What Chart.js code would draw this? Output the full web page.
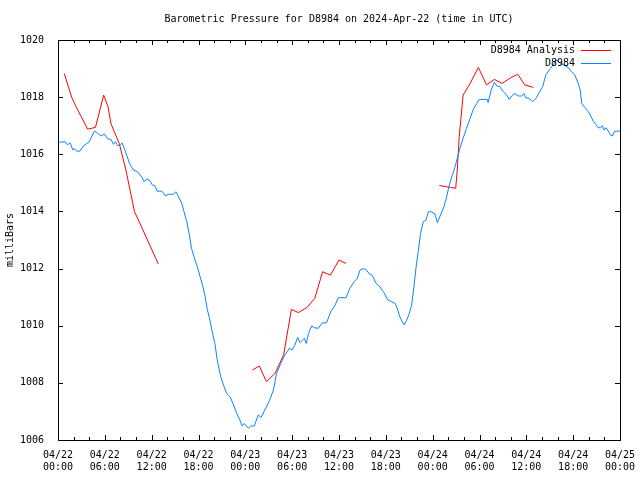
<!DOCTYPE html>
<html>
<head>
<meta charset="utf-8">
<script src="https://cdn.jsdelivr.net/npm/chart.js@4/dist/chart.umd.min.js"></script>
<style>
html,body{margin:0;padding:0;background:#fff;}
#wrap{width:640px;height:480px;}
</style>
</head>
<body>
<div id="wrap"><canvas id="c" width="640" height="480"></canvas></div>
<script>
// ---- data ----
const chartTitle = "Barometric Pressure for D8984 on 2024-Apr-22 (time in UTC)";
const yAxisTitle = "milliBars";
const seriesNames = ["D8984 Analysis", "D8984"];
const xTickLabels = [
  ["04/22","00:00"],["04/22","06:00"],["04/22","12:00"],["04/22","18:00"],
  ["04/23","00:00"],["04/23","06:00"],["04/23","12:00"],["04/23","18:00"],
  ["04/24","00:00"],["04/24","06:00"],["04/24","12:00"],["04/24","18:00"],
  ["04/25","00:00"]
];
// hours since 04/22 00:00 UTC
const analysisHours = [0.8,1.75,2.3,3.2,3.8,4.8,5.85,6.4,6.8,7.85,8.7,9.8,10.4,12.85,
  18,
  24.9,25.8,26.7,27.8,28.9,29.9,30.8,31.9,32.9,33.9,34.9,36.0,36.9,
  42,
  48.85,49.6,50.3,50.95,51.15,51.4,51.9,52.8,53.85,54.9,55.9,56.9,58.0,58.9,59.8,60.9];
const analysisValues = [1018.83,1018.0,1017.67,1017.2,1016.88,1016.94,1018.07,1017.67,1017.06,1016.38,1015.45,1013.99,1013.64,1012.16,
  null,
  1008.45,1008.59,1008.04,1008.33,1008.97,1010.57,1010.46,1010.64,1010.96,1011.89,1011.77,1012.3,1012.18,
  null,
  1014.91,1014.87,1014.84,1014.81,1015.45,1016.62,1018.07,1018.48,1019.04,1018.43,1018.62,1018.48,1018.68,1018.8,1018.43,1018.34];
const obsHours = [0,0.9,1.2,1.55,1.9,2.1,2.4,2.8,3.25,3.7,4.0,4.35,4.65,4.95,5.5,5.95,6.35,6.8,7.1,7.35,7.65,8.0,8.2,8.5,8.8,9.2,9.65,10.2,10.75,11.05,11.35,11.7,12.1,12.4,12.7,13.3,13.8,14.1,14.8,15.1,15.4,15.85,16.15,16.5,16.8,17.1,17.55,17.85,18.2,18.55,18.85,19.1,19.5,19.8,20.1,20.4,20.85,21.2,21.6,22.05,22.45,22.9,23.3,23.6,23.85,24.4,24.7,25.15,25.65,26.0,26.5,27.1,27.6,28.0,28.45,28.95,29.65,30.0,30.35,30.7,31.0,31.55,31.8,32.1,32.5,32.85,33.35,33.85,34.4,34.95,35.5,35.9,36.9,37.4,37.95,38.35,38.7,39.1,39.45,39.9,40.25,40.75,41.25,41.75,42.25,42.75,43.2,43.45,43.8,44.1,44.35,44.65,45.0,45.3,45.6,45.85,46.15,46.45,46.8,47.15,47.45,47.85,48.3,48.6,49.0,49.45,49.8,50.1,50.45,50.75,51.15,51.5,51.9,52.35,52.8,53.2,53.65,53.95,55.0,55.1,55.5,55.9,56.2,56.6,57.05,57.5,57.8,58.1,58.55,58.95,59.4,59.7,59.9,60.35,60.8,61.25,61.65,62.1,62.5,63.1,63.55,63.9,64.3,64.8,65.35,65.8,66.2,66.65,66.9,67.1,67.5,67.95,68.3,68.6,68.9,69.2,69.5,69.75,69.95,70.2,70.5,70.8,71.05,71.25,71.55,72.0];
const obsValues = [1016.42,1016.44,1016.33,1016.40,1016.15,1016.20,1016.11,1016.11,1016.29,1016.38,1016.44,1016.64,1016.81,1016.77,1016.64,1016.71,1016.54,1016.52,1016.35,1016.44,1016.30,1016.33,1016.40,1016.20,1015.97,1015.66,1015.45,1015.39,1015.19,1015.04,1015.13,1015.10,1014.92,1014.90,1014.71,1014.71,1014.54,1014.60,1014.60,1014.69,1014.54,1014.28,1013.99,1013.64,1013.23,1012.71,1012.30,1012.07,1011.72,1011.39,1011.02,1010.61,1010.14,1009.73,1009.38,1008.80,1008.21,1007.92,1007.63,1007.51,1007.26,1006.93,1006.70,1006.49,1006.58,1006.41,1006.49,1006.49,1006.88,1006.79,1007.05,1007.38,1007.75,1008.33,1008.62,1008.92,1009.21,1009.15,1009.32,1009.59,1009.41,1009.56,1009.38,1009.73,1009.99,1009.93,1009.91,1010.10,1010.10,1010.49,1010.72,1010.98,1010.98,1011.31,1011.54,1011.66,1011.95,1012.00,1011.97,1011.81,1011.77,1011.48,1011.36,1011.16,1010.90,1010.84,1010.78,1010.61,1010.31,1010.14,1010.03,1010.18,1010.43,1010.72,1011.36,1012.00,1012.59,1013.23,1013.64,1013.70,1013.99,1013.99,1013.91,1013.61,1013.87,1014.17,1014.52,1014.89,1015.22,1015.45,1015.86,1016.21,1016.56,1016.91,1017.26,1017.57,1017.78,1017.92,1017.92,1017.81,1018.25,1018.52,1018.39,1018.37,1018.19,1018.07,1017.92,1018.04,1018.13,1018.04,1018.04,1018.13,1017.98,1017.96,1017.84,1017.96,1018.16,1018.37,1018.78,1019.01,1019.18,1019.30,1019.20,1019.12,1019.04,1018.89,1018.78,1018.48,1018.25,1017.78,1017.64,1017.49,1017.32,1017.14,1017.05,1016.93,1016.93,1017.00,1016.85,1016.93,1016.81,1016.67,1016.64,1016.79,1016.81,1016.81];

// ---- styles ----
const FONT = "DejaVu Sans Mono";
const RED = "#ff0000";
const BLUE = "#0a84ff";

const toPts = (xs, ys) => xs.map((x, i) => ({x: x, y: ys[i]}));

const gnuplotDecor = {
  id: 'gnuplotDecor',
  afterDatasetsDraw(chart) {
    const ctx = chart.ctx;
    const a = chart.chartArea;
    const xs = chart.scales.x, ys = chart.scales.y;
    ctx.save();
    ctx.strokeStyle = '#000';
    ctx.lineWidth = 1;
    // frame
    ctx.strokeRect(Math.round(a.left) + 0.5, Math.round(a.top) + 0.5,
                   Math.round(a.right - a.left), Math.round(a.bottom - a.top));
    ctx.beginPath();
    // y ticks (left & right, inward)
    ys.ticks.forEach(t => {
      const py = Math.round(ys.getPixelForValue(t.value)) + 0.5;
      ctx.moveTo(a.left, py); ctx.lineTo(a.left + 5, py);
      ctx.moveTo(a.right, py); ctx.lineTo(a.right - 5, py);
    });
    // x ticks major/minor (bottom & top, inward)
    for (let v = xs.min; v <= xs.max + 1e-9; v += 2) {
      const px = Math.round(xs.getPixelForValue(v)) + 0.5;
      const len = (Math.round(v) % 6 === 0) ? 5 : 3;
      ctx.moveTo(px, a.bottom); ctx.lineTo(px, a.bottom - len);
      ctx.moveTo(px, a.top); ctx.lineTo(px, a.top + len);
    }
    ctx.stroke();

    // title
    ctx.fillStyle = '#000';
    ctx.font = "10px '" + FONT + "'";
    ctx.textAlign = 'center';
    ctx.textBaseline = 'middle';
    ctx.fillText(chartTitle, (a.left + a.right) / 2, 19);
    // y title
    ctx.save();
    ctx.translate(10, (a.top + a.bottom) / 2);
    ctx.rotate(-Math.PI / 2);
    ctx.fillText(yAxisTitle, 0, 0);
    ctx.restore();
    // legend
    const ds = chart.data.datasets;
    ctx.textAlign = 'right';
    [0, 1].forEach(i => {
      const y = 50 + i * 13;
      ctx.fillStyle = '#000';
      ctx.fillText(seriesNames[i], 575, y);
      ctx.strokeStyle = ds[i].borderColor;
      ctx.beginPath();
      ctx.moveTo(581, Math.round(y) + 0.5);
      ctx.lineTo(611, Math.round(y) + 0.5);
      ctx.stroke();
    });
    ctx.restore();
  }
};

new Chart(document.getElementById('c'), {
  type: 'line',
  data: {
    datasets: [
      {label: seriesNames[0], data: toPts(analysisHours, analysisValues), borderColor: RED,
       borderWidth: 1, pointRadius: 0, tension: 0, spanGaps: false, fill: false, order: 1},
      {label: seriesNames[1], data: toPts(obsHours, obsValues), borderColor: BLUE,
       borderWidth: 1, pointRadius: 0, tension: 0, spanGaps: false, fill: false, order: 0}
    ]
  },
  options: {
    responsive: false,
    animation: false,
    events: [],
    layout: {padding: {left: 0, top: 40, right: 20, bottom: 0}},
    plugins: {legend: {display: false}, title: {display: false}, tooltip: {enabled: false}},
    scales: {
      x: {
        type: 'linear', min: 0, max: 72,
        grid: {display: false},
        border: {display: false},
        afterFit: s => { s.height = 40; },
        afterBuildTicks: s => { s.ticks = xTickLabels.map((_, i) => ({value: i * 6})); },
        ticks: {
          stepSize: 6, autoSkip: false, maxRotation: 0, minRotation: 0, padding: 1,
          color: '#000', font: {family: FONT, size: 10, lineHeight: 1.25},
          callback: (v) => xTickLabels[Math.round(v / 6)]
        }
      },
      y: {
        min: 1006, max: 1020,
        grid: {display: false},
        border: {display: false},
        afterFit: s => { s.width = 58; },
        ticks: {
          stepSize: 2, padding: 6, color: '#000',
          font: {family: FONT, size: 10},
          callback: v => String(v)
        }
      }
    }
  },
  plugins: [gnuplotDecor]
});
</script>
</body>
</html>
